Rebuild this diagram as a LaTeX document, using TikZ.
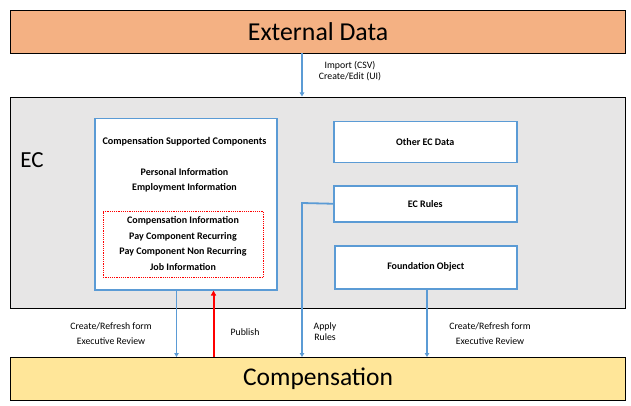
\documentclass[tikz,border=0pt]{standalone}
\usepackage{fontspec}
\setmainfont{Carlito}
\usetikzlibrary{arrows.meta}
\definecolor{extfill}{HTML}{F4B183}
\definecolor{ecfill}{HTML}{E7E6E6}
\definecolor{compfill}{HTML}{FFE699}
\definecolor{bluel}{HTML}{5B9BD5}
\definecolor{redl}{HTML}{FF0000}
\tikzset{
  band/.style={draw=black, line width=1.2pt, inner sep=0pt},
  wbox/.style={draw=bluel, line width=1.5pt, fill=white, inner sep=0pt},
  bt/.style={font=\fontsize{10}{12}\selectfont\bfseries, inner sep=0pt},
  ttl/.style={font=\fontsize{10.2}{12}\selectfont\bfseries, inner sep=0pt},
  lbl/.style={font=\fontsize{9.8}{11}\selectfont, inner sep=0pt},
  barrow/.style={draw=bluel, line width=1.8pt, -{Triangle[length=4pt,width=4.5pt]}},
  rarrow/.style={draw=redl, line width=2pt, -{Triangle[length=5pt,width=5pt]}},
}
\begin{document}
\begin{tikzpicture}[x=1pt,y=-1pt]
\useasboundingbox (0,0) rectangle (631,406);
% bands
\node[band, fill=extfill, minimum width=615, minimum height=43, anchor=north west,
  font=\fontsize{25.8}{28}\selectfont] (ext) at (10,10) {External Data};
\node[band, fill=ecfill, minimum width=615, minimum height=211, anchor=north west] (ec) at (10,97) {};
\node[font=\fontsize{23}{26}\selectfont, inner sep=0pt] (eclbl) at (32,160) {EC};
\node[band, fill=compfill, minimum width=615, minimum height=43, anchor=north west,
  font=\fontsize{25.5}{28}\selectfont] (comp) at (10,357) {Compensation};
% comp supported box
\node[wbox, minimum width=182, minimum height=171, anchor=north west] (csc) at (94,118) {};
\node[ttl] (t1) at (184.5,142) {Compensation Supported Components};
\node[bt] (t2) at (184.5,172) {Personal Information};
\node[bt] (t3) at (184.5,188) {Employment Information};
\node[draw=redl, dash pattern=on 1.2pt off 1pt, line width=1.3pt, minimum width=160, minimum height=66, anchor=north west, inner sep=0pt] (dot) at (102.5,211) {};
\node[bt] (t4) at (183,221) {Compensation Information};
\node[bt] (t5) at (183,237) {Pay Component Recurring};
\node[bt] (t6) at (183,252) {Pay Component Non Recurring};
\node[bt] (t7) at (183,267) {Job Information};
% right boxes
\node[wbox, bt, minimum width=183, minimum height=41, anchor=north west] (other) at (333,121) {Other EC Data};
\node[wbox, bt, minimum width=183, minimum height=36, anchor=north west] (rules) at (333,185) {EC Rules};
\node[wbox, bt, minimum width=182, minimum height=43, anchor=north west] (found) at (334,245) {Foundation Object};
% connectors
\coordinate (extb) at (302,53.5);
\draw[barrow] (extb) -- (302,96.5);
\node[lbl, align=center] (imp) at (350,71.5) {Import (CSV)\\Create/Edit (UI)};
\draw[barrow] (csc.south -| 176.5,0) -- (comp.north -| 176.5,0);
\draw[rarrow] (comp.north -| 213.5,0) -- (csc.south -| 213.5,0);
\draw[barrow] (rules.west) -- (302,203) -- (comp.north -| 302,0);
\draw[barrow] (found.south -| 427,0) -- (comp.north -| 427,0);
% labels
\node[lbl] (l1) at (111,326) {Create/Refresh form};
\node[lbl] (l2) at (111,341.5) {Executive Review};
\node[lbl] (l3) at (245,332) {Publish};
\node[lbl, align=center] (l4) at (325,331.5) {Apply\\Rules};
\node[lbl] (l5) at (490,326) {Create/Refresh form};
\node[lbl] (l6) at (490,341.5) {Executive Review};
\end{tikzpicture}
\end{document}
